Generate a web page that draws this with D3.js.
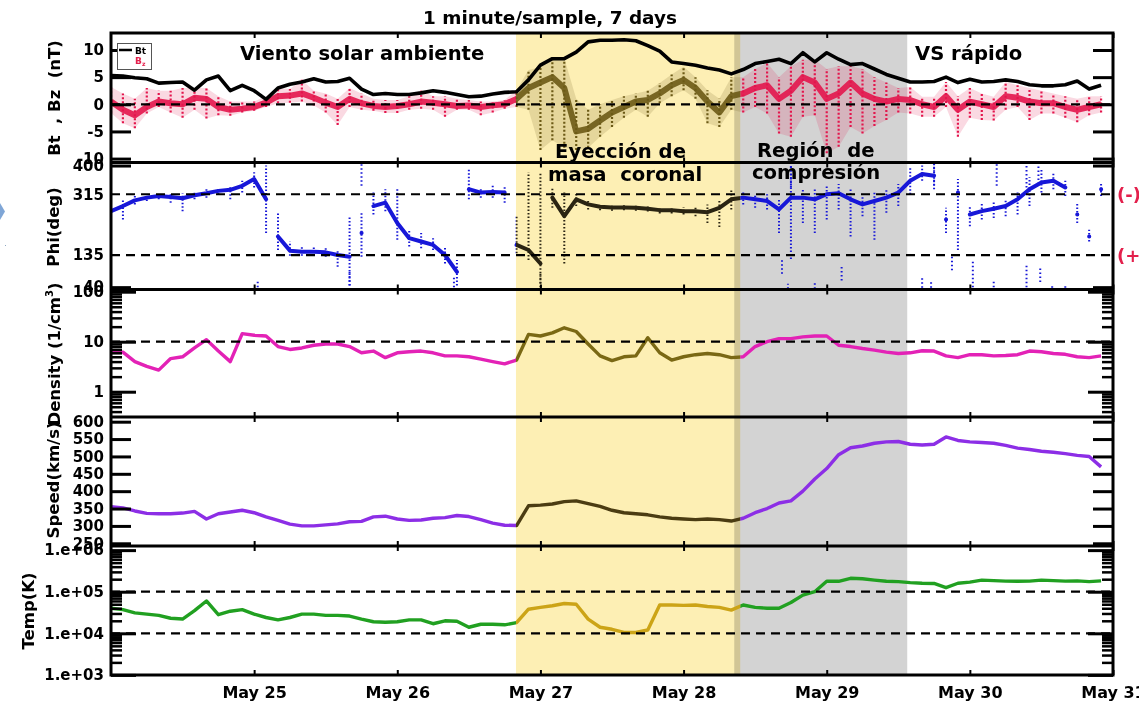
<!DOCTYPE html>
<html>
<head>
<meta charset="utf-8">
<script src="https://cdn.jsdelivr.net/npm/d3@7"></script>
<style>
  html, body { margin: 0; padding: 0; background: #fff; overflow: hidden; }
  svg { display: block; }
  text { font-family: "DejaVu Sans", sans-serif; font-weight: bold; }
</style>
</head>
<body>
<svg id="chart" width="1139" height="703"></svg>
<script>
// Solar wind plasma & magnetic field, 1-minute data summarised on a 2-hour grid.
// Hours counted from 24 May 00:00 UT.
const hours = [
  0, 2, 4, 6, 8, 10, 12, 14, 16, 18, 20, 22,
  24, 26, 28, 30, 32, 34, 36, 38, 40, 42, 44, 46,
  48, 50, 52, 54, 56, 58, 60, 62, 64, 66, 68, 70,
  72, 74, 76, 78, 80, 82, 84, 86, 88, 90, 92, 94,
  96, 98, 100, 102, 104, 106, 108, 110, 112, 114, 116, 118,
  120, 122, 124, 126, 128, 130, 132, 134, 136, 138, 140, 142,
  144, 146, 148, 150, 152, 154, 156, 158, 160, 162, 164, 166
];

// Total field Bt (nT)
const btValues = [
  5.3, 5.2, 4.9, 4.7, 3.9, 4.0, 4.1, 2.6, 4.5, 5.2, 2.5, 3.5,
  2.5, 0.9, 3.0, 3.7, 4.1, 4.7, 4.1, 4.2, 4.8, 2.8, 1.8, 2.0,
  1.8, 1.8, 2.1, 2.5, 2.2, 1.8, 1.4, 1.5, 1.9, 2.2, 2.3, 4.5,
  7.2, 8.4, 8.4, 9.6, 11.5, 11.8, 11.8, 11.9, 11.7, 10.8, 9.8, 7.8,
  7.5, 7.2, 6.7, 6.3, 5.6, 6.4, 7.5, 7.9, 8.3, 7.5, 9.5, 7.8,
  9.5, 8.3, 7.3, 7.5, 6.5, 5.5, 4.8, 4.1, 4.1, 4.2, 5.0, 4.0,
  4.6, 4.1, 4.2, 4.5, 4.2, 3.6, 3.4, 3.4, 3.6, 4.3, 2.8, 3.5
];

// Bz (nT): typical level, and lowest / highest samples in each bin
const bzMid = [
  0.5, -1.0, -2.0, -0.5, 0.5, 0.2, 0.0, 1.2, 1.0, -0.5, -1.0, -0.8,
  -0.5, 0.3, 1.5, 1.6, 2.0, 1.2, 0.3, -0.5, 1.0, 0.2, -0.3, -0.5,
  -0.3, 0.0, 0.5, 0.3, 0.0, -0.3, -0.2, -0.5, -0.2, 0.0, 1.0, 3.0,
  4.0, 5.0, 3.0, -5.0, -4.5, -3.0, -1.5, -0.5, 0.5, 0.8, 2.0, 3.5,
  4.5, 3.0, 0.5, -1.5, 1.5, 2.0, 3.0, 3.5, 1.0, 2.5, 5.0, 4.0,
  1.0, 2.0, 4.0, 2.0, 1.0, 0.5, 1.0, 0.8, 0.0, -0.5, 1.5, -1.0,
  0.5, 0.0, -0.5, 1.5, 1.2, 0.5, 0.2, 0.2, -0.5, -1.0, -0.5, 0.0
];
const bzLow = [
  -1.6, -3.5, -4.4, -1.7, -0.5, -1.5, -2.5, -1.0, -2.6, -2.0, -2.1, -1.5,
  -1.2, -0.5, 0.2, 0.3, 0.5, -0.2, -1.5, -3.8, -0.5, -1.0, -1.2, -1.6,
  -1.6, -1.0, -0.8, -1.0, -2.3, -1.0, -1.0, -2.0, -1.5, -0.8, -0.5, -1.0,
  -8.4, -6.6, -8.0, -8.4, -8.0, -6.0, -4.2, -2.5, -1.0, -2.3, 0.2, 1.5,
  2.6, 1.0, -3.5, -4.2, -1.0, -1.5, -0.5, -1.7, -5.4, -6.0, -2.3, -2.0,
  -9.0, -7.8, -4.2, -5.4, -4.0, -2.9, -1.5, -1.7, -2.3, -2.3, -0.5, -6.0,
  -2.5, -2.9, -3.0, -1.0, -0.5, -2.9, -1.7, -1.7, -2.5, -3.3, -2.0, -1.5
];
const bzHigh = [
  3.2, 2.0, 1.0, 3.0, 2.5, 2.5, 3.0, 3.0, 3.0, 1.5, 0.5, 0.5,
  0.5, 1.5, 3.0, 2.8, 4.5, 2.5, 2.0, 1.0, 3.0, 2.0, 1.0, 0.8,
  0.8, 1.5, 2.6, 1.5, 1.5, 1.0, 0.8, 0.5, 0.5, 0.8, 2.6, 6.3,
  6.8, 8.2, 8.5, 1.0, -1.0, 0.0, 0.8, 1.5, 2.0, 2.5, 3.9, 5.5,
  6.9, 5.0, 2.6, 1.0, 5.0, 5.0, 6.5, 7.6, 5.0, 7.0, 8.2, 8.2,
  6.5, 7.0, 7.0, 6.5, 5.0, 4.0, 3.0, 3.2, 1.4, 1.4, 4.1, 1.5,
  3.0, 2.0, 1.4, 4.1, 3.5, 3.0, 2.5, 2.0, 1.5, 1.0, 1.5, 1.5
];

// Field longitude Phi (deg): typical level and spread per bin
const phiMid = [
  265, 280, 297, 305, 310, 307, 303, 312, 318, 325, 328, 340,
  360, 300, 190, 148, 145, 145, 143, 135, 130, 200, 280, 290,
  230, 185, 175, 165, 135, 85, 330, 320, 322, 320, 165, 150,
  110, 305, 250, 300, 285, 278, 276, 276, 275, 272, 268, 268,
  265, 265, 262, 275, 300, 305, 300, 295, 270, 305, 305, 300,
  315, 318, 300, 285, 295, 305, 320, 355, 375, 370, 240, 320,
  255, 265, 272, 280, 300, 330, 350, 355, 335, 255, 190, 330
];
const phiLow = [
  238, 240, 285, 295, 300, 290, 265, 300, 305, 315, 300, 320,
  335, 200, 150, 133, 133, 132, 130, 100, 45, 130, 255, 265,
  180, 160, 155, 150, 110, 45, 300, 305, 305, 290, 140, 120,
  50, 275, 110, 280, 270, 268, 266, 268, 266, 264, 258, 258,
  255, 250, 230, 218, 270, 285, 275, 270, 200, 123, 230, 200,
  240, 270, 190, 250, 180, 260, 280, 315, 355, 340, 200, 150,
  220, 240, 245, 250, 255, 280, 320, 330, 310, 230, 175, 310
];
const phiHigh = [
  286, 300, 310, 315, 320, 320, 318, 322, 330, 335, 340, 355,
  380, 400, 260, 175, 160, 158, 155, 150, 250, 260, 320, 330,
  330, 210, 200, 185, 160, 120, 390, 335, 340, 340, 250, 380,
  380, 335, 320, 320, 300, 288, 286, 285, 284, 280, 278, 278,
  277, 280, 285, 300, 330, 325, 315, 315, 300, 400, 330, 330,
  340, 345, 330, 310, 320, 330, 345, 395, 400, 400, 275, 360,
  280, 290, 295, 300, 320, 365, 390, 380, 355, 290, 210, 345
];
// Isolated Phi excursions: [hour, low, high]
const phiStreaks = [
  [24.6, 40, 62], [40.0, 45, 90], [42.0, 340, 405], [57.5, 40, 70], [72.0, 40, 80],
  [112.5, 80, 125], [113.5, 35, 50], [114.0, 335, 405], [118.0, 35, 55], [122.5, 60, 100],
  [136.0, 38, 70], [137.5, 38, 60], [138.0, 330, 405], [141.0, 90, 135], [144.5, 40, 120],
  [148.0, 40, 60], [148.5, 340, 405], [153.5, 40, 110], [153.5, 335, 405], [155.5, 345, 405],
  [155.8, 55, 100], [157.8, 38, 45], [160.0, 38, 50]
];

// Proton density (1/cm^3)
const densityValues = [
  6.5, 6.2, 4.0, 3.2, 2.7, 4.6, 5.0, 7.5, 11, 6.5, 4.0, 14.5,
  13.5, 13, 8, 7, 7.5, 8.5, 9, 9, 8, 6, 6.5, 4.8,
  6, 6.3, 6.5, 6.0, 5.2, 5.2, 5.0, 4.5, 4.0, 3.6, 4.3, 14,
  13, 15, 19, 16, 9, 5.2, 4.2, 5.0, 5.2, 12, 6, 4.3,
  5.0, 5.5, 5.8, 5.5, 4.8, 5.0, 8, 10, 11.5, 11.5, 12.5, 13,
  13, 8.5, 8, 7.3, 6.8, 6.2, 5.8, 6.0, 6.6, 6.5, 5.2, 4.8,
  5.5, 5.5, 5.2, 5.3, 5.5, 6.5, 6.3, 5.8, 5.6, 5.0, 4.8, 5.2
];

// Bulk speed (km/s)
const speedValues = [
  355, 352, 343, 336, 335, 335, 337, 342, 320, 335, 340, 345,
  338, 326, 316, 305, 300, 300, 303, 306, 312, 313, 326, 328,
  320, 316, 317, 322, 324, 330, 327, 318, 308, 302, 301, 358,
  360, 363, 370, 372, 364, 356, 345, 338, 335, 332, 326, 322,
  320, 318, 320, 318, 314, 322, 338, 350, 366, 372, 400, 435,
  465, 505, 525, 530, 538, 542, 543, 535, 533, 535, 556, 546,
  542, 540, 538, 532, 524, 520, 515, 512, 508, 503, 500, 470
];

// Proton temperature (K)
const tempValues = [
  40000, 37000, 31000, 29000, 27000, 23000, 22000, 35000, 60000, 28000, 34000, 37000,
  29000, 24000, 21000, 24000, 29000, 29000, 27000, 27000, 26000, 22000, 19000, 18500,
  19000, 21000, 21000, 17000, 20000, 19500, 14000, 16500, 16500, 16000, 18000, 38000,
  42000, 46000, 52000, 50000, 22000, 14000, 12500, 10500, 10500, 12000, 48000, 48000,
  47000, 48000, 44000, 42000, 36000, 48000, 42000, 40000, 40000, 55000, 83000, 100000,
  178000, 178000, 210000, 205000, 190000, 178000, 175000, 165000, 160000, 158000, 125000, 160000,
  170000, 190000, 185000, 180000, 178000, 180000, 190000, 185000, 180000, 182000, 175000, 182000
];

// Event windows (hours)
const cmeWindow = [67.9, 105.5];
const compressionWindow = [104.5, 133.5];

// Axis ticks and labels
const bTicks = [-10, -5, 0, 5, 10];
const phiTicks = [40, 135, 315, 400];
const densityTicks = [1, 10, 100];
const densityMinor = [0.4, 0.5, 0.6, 0.7, 0.8, 0.9, 2, 3, 4, 5, 6, 7, 8, 9, 20, 30, 40, 50, 60, 70, 80, 90];
const speedTicks = [250, 300, 350, 400, 450, 500, 550, 600];
const tempTicks = [1e3, 1e4, 1e5, 1e6];
const tempTickLabels = ["1.e+03", "1.e+04", "1.e+05", "1.e+06"];
const tempMinor = [2e3, 3e3, 4e3, 5e3, 6e3, 7e3, 8e3, 9e3, 2e4, 3e4, 4e4, 5e4, 6e4, 7e4, 8e4, 9e4,
                   2e5, 3e5, 4e5, 5e5, 6e5, 7e5, 8e5, 9e5];
const dayLabels = ["May 25", "May 26", "May 27", "May 28", "May 29", "May 30", "May 31"];

// Dashed reference levels
const bRef = [0];
const phiRef = [135, 315];
const densityRef = [10];
const tempRef = [1e4, 1e5];

// ---------------------------------------------------------------------------
const svg = d3.select("#chart");
const left = 111, right = 1113;
const start = Date.UTC(2013, 4, 24);
const x = d3.scaleUtc()
  .domain([new Date(start), new Date(start + 7 * 864e5)])
  .range([left, right]);
const xh = h => x(new Date(start + h * 3600e3));

const bands = {
  b: [33, 162.5], phi: [162.5, 289.5], dens: [289.5, 417], speed: [417, 546], temp: [546, 675]
};
const yB = d3.scaleLinear().domain([-10.72, 13.13]).range([bands.b[1], bands.b[0]]);
const yPhi = d3.scaleLinear().domain([33, 409]).range([bands.phi[1], bands.phi[0]]);
const yDens = d3.scaleLog().domain([0.312, 110.7]).range([bands.dens[1], bands.dens[0]]);
const ySpeed = d3.scaleLinear().domain([242.2, 613.5]).range([bands.speed[1], bands.speed[0]]);
const yTemp = d3.scaleLog().domain([995, 1.256e6]).range([bands.temp[1], bands.temp[0]]);

const colors = {
  bt: "#000000",
  bz: "#e3154c", bzCme: "#6c5a16",
  phi: "#1717d8", phiCme: "#2a2412",
  dens: "#e322b6", densCme: "#7a6814",
  speed: "#8c2ee6", speedCme: "#4b3c12",
  temp: "#21a021", tempCme: "#cca417",
  yellow: "#fdefb4", gray: "#d3d3d3", red: "#e3204c"
};

const defs = svg.append("defs");
function clip(id, rects) {
  const cp = defs.append("clipPath").attr("id", id);
  rects.forEach(r => cp.append("rect").attr("x", r[0]).attr("y", r[1]).attr("width", r[2]).attr("height", r[3]));
}
Object.entries(bands).forEach(([k, b]) => clip("clip-" + k, [[left, b[0], right - left, b[1] - b[0]]]));
const cx0 = xh(cmeWindow[0]), cx1 = xh(cmeWindow[1]);
clip("clip-cme", [[cx0, 0, cx1 - cx0, 703]]);
clip("clip-out", [[0, 0, cx0, 703], [cx1, 0, 1139 - cx1, 703]]);

// Shaded event windows
const shade = svg.append("g");
shade.append("rect")
  .attr("x", xh(cmeWindow[0])).attr("y", bands.b[0])
  .attr("width", xh(cmeWindow[1]) - xh(cmeWindow[0])).attr("height", bands.temp[1] - bands.b[0])
  .attr("fill", colors.yellow);
shade.append("rect")
  .attr("x", xh(compressionWindow[0])).attr("y", bands.b[0])
  .attr("width", xh(compressionWindow[1]) - xh(compressionWindow[0])).attr("height", bands.temp[1] - bands.b[0])
  .attr("fill", colors.gray).style("mix-blend-mode", "multiply");

// Helpers -------------------------------------------------------------------
function panelGroup(key) {
  return svg.append("g").attr("clip-path", `url(#clip-${key})`);
}
function twoTone(g, normal, cme, draw) {
  draw(g.append("g").attr("clip-path", "url(#clip-out)"), normal);
  draw(g.append("g").attr("clip-path", "url(#clip-cme)"), cme);
}
function lineOf(y, values) {
  return d3.line().x((d, i) => xh(hours[i])).y(d => y(d)).curve(d3.curveLinear)(values);
}
// Path that lifts the pen wherever consecutive samples jump by more than maxJump
function brokenLineOf(y, values, maxJump) {
  const runs = [];
  let run = [];
  values.forEach((v, i) => {
    if (i > 0 && Math.abs(v - values[i - 1]) > maxJump) { runs.push(run); run = []; }
    run.push([xh(hours[i]), y(v)]);
  });
  runs.push(run);
  const line = d3.line();
  return runs.map(r => r.length > 1 ? line(r) : `M${r[0][0]},${r[0][1]}h0.1`).join("");
}
function rangeBars(g, y, lo, hi, color, w, dash) {
  g.selectAll(null).data(hours).join("line")
    .attr("x1", d => xh(d)).attr("x2", d => xh(d))
    .attr("y1", (d, i) => y(lo[i])).attr("y2", (d, i) => y(hi[i]))
    .attr("stroke", color).attr("stroke-width", w).attr("stroke-dasharray", dash);
}
function rangeArea(g, y, lo, hi, color, opacity) {
  g.append("path")
    .attr("d", d3.area().x((d, i) => xh(hours[i])).y0((d, i) => y(lo[i])).y1((d, i) => y(hi[i]))(hours))
    .attr("fill", color).attr("fill-opacity", opacity);
}

// Panel 1: Bt and Bz
{
  const g = panelGroup("b");
  twoTone(g, colors.bz, colors.bzCme, (s, c) => {
    rangeArea(s, yB, bzLow, bzHigh, c, 0.16);
    rangeBars(s, yB, bzLow, bzHigh, c, 2.2, "2 2");
    s.append("path").attr("d", lineOf(yB, bzMid)).attr("fill", "none")
      .attr("stroke", c).attr("stroke-width", 6).attr("stroke-linejoin", "round").attr("opacity", 0.9);
  });
  g.append("path").attr("d", lineOf(yB, btValues)).attr("fill", "none")
    .attr("stroke", colors.bt).attr("stroke-width", 3.6).attr("stroke-linejoin", "round");
}

// Panel 2: Phi
{
  const g = panelGroup("phi");
  twoTone(g, colors.phi, colors.phiCme, (s, c) => {
    rangeBars(s, yPhi, phiLow, phiHigh, c, 2, "1.5 2");
    s.selectAll(null).data(phiStreaks).join("line")
      .attr("x1", d => xh(d[0])).attr("x2", d => xh(d[0]))
      .attr("y1", d => yPhi(d[1])).attr("y2", d => yPhi(d[2]))
      .attr("stroke", c).attr("stroke-width", 2).attr("stroke-dasharray", "1.5 2.5");
    s.append("path").attr("d", brokenLineOf(yPhi, phiMid, 60)).attr("fill", "none")
      .attr("stroke", c).attr("stroke-width", 4).attr("stroke-linejoin", "round").attr("stroke-linecap", "round");
  });
}

// Panels 3-5: density, speed, temperature
[["dens", yDens, densityValues, colors.dens, colors.densCme],
 ["speed", ySpeed, speedValues, colors.speed, colors.speedCme],
 ["temp", yTemp, tempValues, colors.temp, colors.tempCme]].forEach(([k, y, vals, c1, c2]) => {
  const g = panelGroup(k);
  twoTone(g, c1, c2, (s, c) => {
    s.append("path").attr("d", lineOf(y, vals)).attr("fill", "none")
      .attr("stroke", c).attr("stroke-width", 3.4).attr("stroke-linejoin", "round");
  });
});

// Dashed reference levels
const refs = svg.append("g").attr("stroke", "#000").attr("stroke-width", 2.2).attr("stroke-dasharray", "9 6");
[[yB, bRef], [yPhi, phiRef], [yDens, densityRef], [yTemp, tempRef]].forEach(([y, vals]) => {
  vals.forEach(v => refs.append("line").attr("x1", left).attr("x2", right).attr("y1", y(v)).attr("y2", y(v)));
});

// Axes ----------------------------------------------------------------------
function styleAxis(g, width) {
  g.select(".domain").remove();
  g.selectAll(".tick line").attr("stroke", "#000").attr("stroke-width", width);
  g.attr("font-family", "DejaVu Sans").attr("font-weight", "bold").attr("font-size", 15);
  g.selectAll(".tick text").attr("fill", "#000");
}
function yAxes(y, values, labels, len, minor) {
  const gl = svg.append("g").attr("transform", `translate(${left},0)`)
    .call(d3.axisLeft(y).tickValues(values).tickFormat((d, i) => labels[i])
      .tickSizeInner(-len).tickSizeOuter(0).tickPadding(7));
  styleAxis(gl, 3);
  const gr = svg.append("g").attr("transform", `translate(${right},0)`)
    .call(d3.axisRight(y).tickValues(values).tickFormat("").tickSizeInner(-len).tickSizeOuter(0));
  styleAxis(gr, 3);
  if (minor) {
    [[d3.axisLeft, left], [d3.axisRight, right]].forEach(([ax, px]) => {
      const gm = svg.append("g").attr("transform", `translate(${px},0)`)
        .call(ax(y).tickValues(minor).tickFormat("").tickSizeInner(-11).tickSizeOuter(0));
      styleAxis(gm, 2.5);
    });
  }
}
yAxes(yB, bTicks, bTicks.map(String), 20);
yAxes(yPhi, [400, 40], ["400", "40"], 20);
// Phi labels for the dashed levels (no tick marks)
svg.append("g").attr("font-size", 15).attr("text-anchor", "end")
  .selectAll("text").data(phiTicks.filter(d => d === 315 || d === 135)).join("text")
  .attr("x", left - 7).attr("y", d => yPhi(d)).attr("dy", "0.36em").text(d => d);
yAxes(yDens, densityTicks, densityTicks.map(String), 25, densityMinor);
yAxes(ySpeed, speedTicks, speedTicks.map(String), 20);
yAxes(yTemp, tempTicks, tempTickLabels, 25, tempMinor);

// Day ticks on every panel border
const dayTicks = dayLabels.map((d, i) => new Date(start + (i + 1) * 864e5));
Object.values(bands).forEach(b => {
  const gt = svg.append("g").attr("transform", `translate(0,${b[0]})`)
    .call(d3.axisBottom(x).tickValues(dayTicks).tickFormat("").tickSizeInner(5).tickSizeOuter(0));
  styleAxis(gt, 2);
  const gb = svg.append("g").attr("transform", `translate(0,${b[1]})`)
    .call(d3.axisTop(x).tickValues(dayTicks).tickFormat("").tickSizeInner(5).tickSizeOuter(0));
  styleAxis(gb, 2);
});
const gx = svg.append("g").attr("transform", `translate(0,${bands.temp[1]})`)
  .call(d3.axisBottom(x).tickValues(dayTicks).tickFormat((d, i) => dayLabels[i])
    .tickSizeInner(0).tickSizeOuter(0).tickPadding(11.5));
styleAxis(gx, 0);
gx.attr("font-size", 16);

// Frame and panel separators
const frame = svg.append("g").attr("stroke", "#000").attr("stroke-width", 3).attr("fill", "none");
frame.append("rect").attr("x", left).attr("y", bands.b[0])
  .attr("width", right - left).attr("height", bands.temp[1] - bands.b[0]);
[bands.b[1], bands.phi[1], bands.dens[1], bands.speed[1]].forEach(yv =>
  frame.append("line").attr("x1", left).attr("x2", right).attr("y1", yv).attr("y2", yv));

// Legend
const lg = svg.append("g");
lg.append("rect").attr("x", 117.5).attr("y", 43.5).attr("width", 34).attr("height", 26)
  .attr("fill", "#fff").attr("stroke", "#555").attr("stroke-width", 1);
lg.append("line").attr("x1", 119).attr("x2", 132).attr("y1", 50).attr("y2", 50)
  .attr("stroke", "#000").attr("stroke-width", 2.5);
lg.append("text").attr("x", 135).attr("y", 53.5).attr("font-size", 9).attr("fill", "#000").text("Bt");
const bzt = lg.append("text").attr("x", 135).attr("y", 64).attr("font-size", 9).attr("fill", colors.red);
bzt.append("tspan").text("B");
bzt.append("tspan").attr("font-size", 6).attr("dy", 2).text("z");

// Titles and annotations
svg.append("text").attr("x", 550).attr("y", 24).attr("text-anchor", "middle")
  .attr("font-size", 18.4).text("1 minute/sample, 7 days");

const notes = [
  ["Viento solar ambiente", 240, 60], ["VS rápido", 915, 60],
  ["Eyección de", 555, 158], ["masa  coronal", 548, 181],
  ["Región  de", 757, 157], ["compresión", 752, 179]
];
svg.append("g").attr("font-size", 19.6).selectAll("text").data(notes).join("text")
  .attr("x", d => d[1]).attr("y", d => d[2]).style("white-space", "pre").text(d => d[0]);

// Axis titles
const axisTitles = [
  ["Bt  , Bz  (nT)", 60, 98], ["Phi(deg)", 59, 227], ["Speed(km/s)", 59, 480], ["Temp(K)", 34, 611]
];
svg.append("g").attr("font-size", 16.5).selectAll("text").data(axisTitles).join("text")
  .attr("transform", d => `translate(${d[1]},${d[2]}) rotate(-90)`)
  .attr("text-anchor", "middle").style("white-space", "pre").text(d => d[0]);
const dt = svg.append("text").attr("transform", "translate(60,354) rotate(-90)")
  .attr("text-anchor", "middle").attr("font-size", 16.5);
dt.append("tspan").text("Density (1/cm");
dt.append("tspan").attr("font-size", 10).attr("dy", -7).text("3");
dt.append("tspan").attr("dy", 7).text(")");

// Polarity markers for the Phi sectors
svg.append("g").attr("font-size", 18).attr("fill", colors.red).selectAll("text")
  .data([["(-)", 315], ["(+)", 135]]).join("text")
  .attr("x", 1117).attr("y", d => yPhi(d[1])).attr("dy", "0.36em").text(d => d[0]);

// Slide arrow at the left edge
svg.append("polygon").attr("points", "0,203 5,211.5 0,220").attr("fill", "#7fa6d6");
svg.append("rect").attr("x", 5).attr("y", 245).attr("width", 1).attr("height", 1).attr("fill", "#8fa9c4");
</script>
</body>
</html>
